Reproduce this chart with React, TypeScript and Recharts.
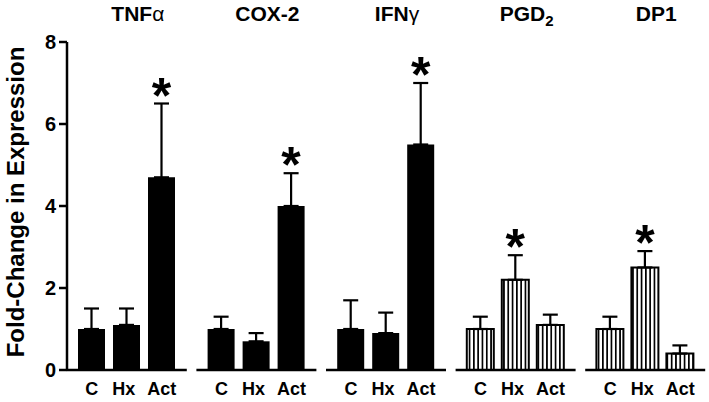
import { Bar, BarChart, Cell, ErrorBar, LabelList, XAxis, YAxis } from "recharts";

const genes = ["TNFα", "COX-2", "IFNγ", "PGD", "DP1"];
const geneSubs = ["", "", "", "2", ""];
const treatments = ["C", "Hx", "Act"];
const striped = [false, false, false, true, true];

const cValues = [1.0, 1.0, 1.0, 1.0, 1.0];
const cErrors = [0.5, 0.3, 0.7, 0.3, 0.3];
const cSig = [false, false, false, false, false];

const hxValues = [1.1, 0.7, 0.9, 2.2, 2.5];
const hxErrors = [0.4, 0.2, 0.5, 0.6, 0.4];
const hxSig = [false, false, false, true, true];

const actValues = [4.7, 4.0, 5.5, 1.1, 0.4];
const actErrors = [1.8, 0.8, 1.5, 0.25, 0.2];
const actSig = [true, true, true, false, false];

const yTicks = [0, 2, 4, 6, 8];

const FONT = "'Liberation Sans', Arial, sans-serif";
const BAR_SIZE = 27;
const BAR_GAP = 8;
const STEP = BAR_SIZE + BAR_GAP;

const data = genes.map((gene, i) => ({
  gene,
  C: cValues[i],
  CErr: [0, cErrors[i]],
  CUp: cErrors[i],
  CSig: cSig[i] ? 1 : 0,
  Hx: hxValues[i],
  HxErr: [0, hxErrors[i]],
  HxUp: hxErrors[i],
  HxSig: hxSig[i] ? 1 : 0,
  Act: actValues[i],
  ActErr: [0, actErrors[i]],
  ActUp: actErrors[i],
  ActSig: actSig[i] ? 1 : 0,
}));

const isGreek = (ch: string) => /[α-ω]/.test(ch);

function TitleTick(props: any) {
  const { x, y, payload, index } = props;
  const name: string = payload.value;
  return (
    <text x={x + 11} y={y - 21} textAnchor="middle" fontFamily={FONT} fontSize={21} fontWeight="bold" fill="#000">
      {name.split("").map((ch, k) => (
        <tspan key={k} fontWeight={isGreek(ch) ? "normal" : "bold"}>{ch}</tspan>
      ))}
      {geneSubs[index] ? (
        <tspan fontSize={15} dy={5}>{geneSubs[index]}</tspan>
      ) : null}
    </text>
  );
}

function GroupTick(props: any) {
  const { x, y } = props;
  return (
    <g>
      <line x1={x - 60} x2={x + 60} y1={y} y2={y} stroke="#000" strokeWidth={2.5} />
      {treatments.map((t, k) => (
        <text
          key={t}
          x={x + (k - 1) * STEP - (k === 1 ? 3 : 0)}
          y={y + 25}
          textAnchor="middle"
          fontFamily={FONT}
          fontSize={18}
          fontWeight="bold"
          fill="#000"
        >
          {t}
        </text>
      ))}
    </g>
  );
}

const starLabel = (key: "C" | "Hx" | "Act") => (props: any) => {
  const { x, y, width, height, index } = props;
  const d: any = data[index];
  if (!d[key + "Sig"]) return null;
  const perUnit = height / d[key];
  const top = y - d[key + "Up"] * perUnit;
  return (
    <text x={x + width / 2} y={top + 9} textAnchor="middle" fontFamily={FONT} fontSize={50} fontWeight="bold" fill="#000">
      *
    </text>
  );
};

export default function App() {
  return (
    <div style={{ position: "fixed", left: 0, top: 0, background: "#fff" }}>
      <BarChart
        width={709}
        height={402}
        data={data}
        margin={{ top: 0, right: 0, bottom: 0, left: 0 }}
        barSize={BAR_SIZE}
        barGap={BAR_GAP}
      >
        <defs>
          <pattern id="stripes" patternUnits="userSpaceOnUse" width={4.3} height={8}>
            <rect width={4.3} height={8} fill="#fff" />
            <rect x={0} width={1.7} height={8} fill="#000" />
          </pattern>
        </defs>
        <XAxis
          dataKey="gene"
          xAxisId="top"
          orientation="top"
          height={42}
          axisLine={false}
          tickLine={false}
          tickSize={0}
          tickMargin={0}
          padding={{ left: -5, right: -1 }}
          tick={<TitleTick />}
          interval={0}
        />
        <XAxis
          dataKey="gene"
          height={32}
          axisLine={false}
          tickLine={false}
          tickSize={0}
          tickMargin={0}
          padding={{ left: -5, right: -1 }}
          tick={<GroupTick />}
          interval={0}
        />
        <YAxis
          width={67}
          domain={[0, 8]}
          ticks={yTicks}
          axisLine={{ stroke: "#000", strokeWidth: 2.5 }}
          tickLine={{ stroke: "#000", strokeWidth: 2.5 }}
          tickSize={8}
          tickMargin={3}
          tick={{ fill: "#000", fontSize: 20, fontWeight: "bold", fontFamily: FONT }}
          label={{
            value: "Fold-Change in Expression",
            angle: -90,
            position: "insideLeft",
            content: (p: any) => (
              <text
                x={24}
                y={202}
                transform="rotate(-90 24 202)"
                textAnchor="middle"
                fontFamily={FONT}
                fontSize={24}
                fontWeight="bold"
                fill="#000"
              >
                {p.value}
              </text>
            ),
          }}
        />
        {(["C", "Hx", "Act"] as const).map((key) => (
          <Bar key={key} dataKey={key} isAnimationActive={false}>
            {data.map((d, i) => (
              <Cell
                key={i}
                fill={striped[i] ? "url(#stripes)" : "#000"}
                stroke="#000"
                strokeWidth={striped[i] ? 2 : 0}
              />
            ))}
            <ErrorBar dataKey={key + "Err"} width={7.5} strokeWidth={2.2} stroke="#000" direction="y" isAnimationActive={false} />
            <LabelList dataKey={key + "Sig"} content={starLabel(key)} />
          </Bar>
        ))}
      </BarChart>
    </div>
  );
}
